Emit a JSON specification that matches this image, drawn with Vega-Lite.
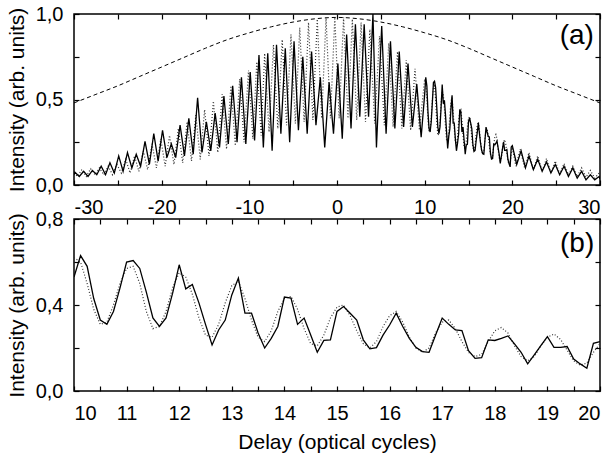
{
  "$schema": "https://vega.github.io/schema/vega-lite/v6.json",
  "padding": {"left": 5, "top": 3, "right": 8, "bottom": 5},
  "bounds": "flush",
  "spacing": 34,
  "config": {
    "font": "Liberation Sans",
    "view": {"stroke": "black", "strokeWidth": 1.5},
    "axis": {"domain": false, "grid": false, "tickColor": "black", "tickSize": -5, "tickWidth": 1.2,
      "labelFont": "Liberation Sans", "labelFontSize": 20, "labelColor": "black",
      "titleFont": "Liberation Sans", "titleFontSize": 21, "titleFontWeight": "normal", "titleColor": "black"}
  },
  "datasets": {
    "solid": [
      {"x":-30,"y":0.06},{"x":-29.9,"y":0.075},{"x":-29.4,"y":0.05},{"x":-28.9,"y":0.08},{"x":-28.4,"y":0.05},{"x":-27.9,"y":0.085},{"x":-27.4,"y":0.06},{"x":-26.9,"y":0.11},{"x":-26.4,"y":0.06},{"x":-25.9,"y":0.13},{"x":-25.4,"y":0.07},{"x":-24.9,"y":0.17},{"x":-24.4,"y":0.08},{"x":-23.9,"y":0.19},{"x":-23.4,"y":0.1},{"x":-22.9,"y":0.18},{"x":-22.4,"y":0.11},{"x":-21.9,"y":0.255},{"x":-21.4,"y":0.12},{"x":-20.9,"y":0.3},{"x":-20.4,"y":0.14},{"x":-19.9,"y":0.32},{"x":-19.4,"y":0.16},{"x":-18.9,"y":0.24},{"x":-18.4,"y":0.16},{"x":-17.9,"y":0.35},{"x":-17.4,"y":0.17},{"x":-16.9,"y":0.39},{"x":-16.4,"y":0.18},{"x":-15.9,"y":0.51},{"x":-15.4,"y":0.19},{"x":-14.9,"y":0.37},{"x":-14.4,"y":0.2},{"x":-13.9,"y":0.42},{"x":-13.4,"y":0.22},{"x":-12.9,"y":0.52},{"x":-12.4,"y":0.24},{"x":-11.9,"y":0.58},{"x":-11.4,"y":0.25},{"x":-10.9,"y":0.63},{"x":-10.4,"y":0.24},{"x":-9.9,"y":0.66},{"x":-9.4,"y":0.26},{"x":-8.9,"y":0.76},{"x":-8.4,"y":0.22},{"x":-7.9,"y":0.77},{"x":-7.4,"y":0.2},{"x":-6.9,"y":0.82},{"x":-6.4,"y":0.3},{"x":-5.9,"y":0.8},{"x":-5.4,"y":0.25},{"x":-4.9,"y":0.84},{"x":-4.4,"y":0.32},{"x":-3.9,"y":0.75},{"x":-3.4,"y":0.3},{"x":-2.9,"y":0.78},{"x":-2.4,"y":0.35},{"x":-1.9,"y":0.63},{"x":-1.4,"y":0.22},{"x":-0.9,"y":0.6},{"x":-0.4,"y":0.3},{"x":0.1,"y":0.71},{"x":0.6,"y":0.27},{"x":1.1,"y":0.88},{"x":1.6,"y":0.33},{"x":2.1,"y":0.94},{"x":2.6,"y":0.4},{"x":3.1,"y":0.94},{"x":3.6,"y":0.4},{"x":4.1,"y":1.0},{"x":4.5,"y":0.22},{"x":5.1,"y":0.93},{"x":5.6,"y":0.3},{"x":6.1,"y":0.84},{"x":6.6,"y":0.33},{"x":7.1,"y":0.78},{"x":7.6,"y":0.34},{"x":8.1,"y":0.71},{"x":8.6,"y":0.34},{"x":9.1,"y":0.59},{"x":9.6,"y":0.28},
      {"x":10,"y":0.53},{"x":10.125,"y":0.63},{"x":10.25,"y":0.58},{"x":10.375,"y":0.43},{"x":10.5,"y":0.33},{"x":10.625,"y":0.31},{"x":10.75,"y":0.37},{"x":10.875,"y":0.48},
      {"x":11,"y":0.6},{"x":11.125,"y":0.607},{"x":11.25,"y":0.57},{"x":11.375,"y":0.46},{"x":11.5,"y":0.34},{"x":11.625,"y":0.3},{"x":11.75,"y":0.34},{"x":11.875,"y":0.455},
      {"x":12,"y":0.587},{"x":12.125,"y":0.475},{"x":12.25,"y":0.495},{"x":12.375,"y":0.41},{"x":12.5,"y":0.31},{"x":12.625,"y":0.214},{"x":12.75,"y":0.284},{"x":12.875,"y":0.33},
      {"x":13,"y":0.447},{"x":13.125,"y":0.525},{"x":13.25,"y":0.362},{"x":13.375,"y":0.362},{"x":13.5,"y":0.27},{"x":13.625,"y":0.2},{"x":13.75,"y":0.245},{"x":13.875,"y":0.3},
      {"x":14,"y":0.437},{"x":14.125,"y":0.432},{"x":14.25,"y":0.31},{"x":14.375,"y":0.339},{"x":14.5,"y":0.26},{"x":14.625,"y":0.18},{"x":14.75,"y":0.235},{"x":14.875,"y":0.238},
      {"x":15,"y":0.37},{"x":15.125,"y":0.393},{"x":15.25,"y":0.362},{"x":15.375,"y":0.33},{"x":15.5,"y":0.238},{"x":15.625,"y":0.196},{"x":15.75,"y":0.202},{"x":15.875,"y":0.26},
      {"x":16,"y":0.307},{"x":16.125,"y":0.362},{"x":16.25,"y":0.3},{"x":16.375,"y":0.245},{"x":16.5,"y":0.203},{"x":16.625,"y":0.183},{"x":16.75,"y":0.18},{"x":16.875,"y":0.26},
      {"x":17,"y":0.339},{"x":17.125,"y":0.31},{"x":17.25,"y":0.284},{"x":17.375,"y":0.281},{"x":17.5,"y":0.188},{"x":17.625,"y":0.152},{"x":17.75,"y":0.155},{"x":17.875,"y":0.238},
      {"x":18,"y":0.235},{"x":18.125,"y":0.245},{"x":18.25,"y":0.256},{"x":18.375,"y":0.219},{"x":18.5,"y":0.18},{"x":18.625,"y":0.126},{"x":18.75,"y":0.168},{"x":18.875,"y":0.211},
      {"x":19,"y":0.253},{"x":19.125,"y":0.203},{"x":19.25,"y":0.203},{"x":19.375,"y":0.207},{"x":19.5,"y":0.149},{"x":19.625,"y":0.126},{"x":19.75,"y":0.106},{"x":19.875,"y":0.222},
      {"x":20,"y":0.23},
      {"x":20.5,"y":0.12},{"x":21,"y":0.2},{"x":21.5,"y":0.1},{"x":21.9,"y":0.17},{"x":22.4,"y":0.09},{"x":22.9,"y":0.15},{"x":23.4,"y":0.08},{"x":23.9,"y":0.135},{"x":24.4,"y":0.07},{"x":24.9,"y":0.12},{"x":25.4,"y":0.06},{"x":25.9,"y":0.11},{"x":26.4,"y":0.05},{"x":26.9,"y":0.1},{"x":27.4,"y":0.04},{"x":27.9,"y":0.08},{"x":28.4,"y":0.03},{"x":28.9,"y":0.06},{"x":29.4,"y":0.03},{"x":29.9,"y":0.05},{"x":30,"y":0.035}
    ],
    "dotted": [
      {"x":-30,"y":0.07},{"x":-29.6,"y":0.05},{"x":-29.1,"y":0.09},{"x":-28.6,"y":0.05},{"x":-28.1,"y":0.095},{"x":-27.6,"y":0.06},{"x":-27.1,"y":0.1},{"x":-26.6,"y":0.06},{"x":-26.1,"y":0.11},{"x":-25.6,"y":0.06},{"x":-25.1,"y":0.12},{"x":-24.6,"y":0.07},{"x":-24.1,"y":0.15},{"x":-23.6,"y":0.07},{"x":-23.1,"y":0.17},{"x":-22.6,"y":0.08},{"x":-22.1,"y":0.2},{"x":-21.6,"y":0.09},{"x":-21.1,"y":0.24},{"x":-20.6,"y":0.1},{"x":-20.1,"y":0.27},{"x":-19.6,"y":0.11},{"x":-19.1,"y":0.29},{"x":-18.6,"y":0.12},{"x":-18.1,"y":0.33},{"x":-17.6,"y":0.13},{"x":-17.1,"y":0.37},{"x":-16.6,"y":0.14},{"x":-16.1,"y":0.41},{"x":-15.6,"y":0.15},{"x":-15.1,"y":0.44},{"x":-14.6,"y":0.17},{"x":-14.1,"y":0.49},{"x":-13.6,"y":0.19},{"x":-13.1,"y":0.53},{"x":-12.6,"y":0.21},{"x":-12.1,"y":0.58},{"x":-11.6,"y":0.23},{"x":-11.1,"y":0.62},{"x":-10.6,"y":0.25},{"x":-10.1,"y":0.67},{"x":-9.6,"y":0.27},
      {"x":-9.15,"y":0.72},{"x":-8.65,"y":0.29},{"x":-8.25,"y":0.77},{"x":-7.75,"y":0.31},{"x":-7.25,"y":0.82},{"x":-6.75,"y":0.33},{"x":-6.25,"y":0.85},{"x":-5.75,"y":0.35},{"x":-5.25,"y":0.88},{"x":-4.75,"y":0.36},{"x":-4.25,"y":0.92},{"x":-3.75,"y":0.37},{"x":-3.25,"y":0.95},{"x":-2.75,"y":0.38},{"x":-2.25,"y":0.97},{"x":-1.75,"y":0.39},{"x":-1.25,"y":0.98},{"x":-0.75,"y":0.39},{"x":-0.25,"y":0.98},{"x":0.25,"y":0.39},{"x":0.75,"y":0.98},{"x":1.25,"y":0.39},{"x":1.75,"y":0.97},{"x":2.25,"y":0.38},{"x":2.75,"y":0.95},{"x":3.25,"y":0.37},{"x":3.75,"y":0.91},{"x":4.3,"y":0.36},{"x":4.85,"y":0.87},{"x":5.4,"y":0.35},
      {"x":5.9,"y":0.83},{"x":6.4,"y":0.34},{"x":6.9,"y":0.78},{"x":7.4,"y":0.33},{"x":7.9,"y":0.73},{"x":8.4,"y":0.32},{"x":8.9,"y":0.68},{"x":9.4,"y":0.32},
      {"x":10,"y":0.62},{"x":10.125,"y":0.6},{"x":10.25,"y":0.5},{"x":10.375,"y":0.38},{"x":10.5,"y":0.31},{"x":10.625,"y":0.32},{"x":10.75,"y":0.4},{"x":10.875,"y":0.5},
      {"x":11,"y":0.57},{"x":11.125,"y":0.58},{"x":11.25,"y":0.5},{"x":11.375,"y":0.37},{"x":11.5,"y":0.29},{"x":11.625,"y":0.3},{"x":11.75,"y":0.37},{"x":11.875,"y":0.48},
      {"x":12,"y":0.55},{"x":12.125,"y":0.53},{"x":12.25,"y":0.45},{"x":12.375,"y":0.34},{"x":12.5,"y":0.26},{"x":12.625,"y":0.25},{"x":12.75,"y":0.31},{"x":12.875,"y":0.41},
      {"x":13,"y":0.49},{"x":13.125,"y":0.51},{"x":13.25,"y":0.43},{"x":13.375,"y":0.33},{"x":13.5,"y":0.25},{"x":13.625,"y":0.23},{"x":13.75,"y":0.28},{"x":13.875,"y":0.37},
      {"x":14,"y":0.43},{"x":14.125,"y":0.44},{"x":14.25,"y":0.38},{"x":14.375,"y":0.29},{"x":14.5,"y":0.22},{"x":14.625,"y":0.21},{"x":14.75,"y":0.26},{"x":14.875,"y":0.34},
      {"x":15,"y":0.39},{"x":15.125,"y":0.4},{"x":15.25,"y":0.35},{"x":15.375,"y":0.28},{"x":15.5,"y":0.22},{"x":15.625,"y":0.2},{"x":15.75,"y":0.23},{"x":15.875,"y":0.3},
      {"x":16,"y":0.35},{"x":16.125,"y":0.37},{"x":16.25,"y":0.32},{"x":16.375,"y":0.25},{"x":16.5,"y":0.2},{"x":16.625,"y":0.18},{"x":16.75,"y":0.2},{"x":16.875,"y":0.27},
      {"x":17,"y":0.32},{"x":17.125,"y":0.33},{"x":17.25,"y":0.29},{"x":17.375,"y":0.23},{"x":17.5,"y":0.18},{"x":17.625,"y":0.16},{"x":17.75,"y":0.17},{"x":17.875,"y":0.23},
      {"x":18,"y":0.28},{"x":18.125,"y":0.295},{"x":18.25,"y":0.27},{"x":18.375,"y":0.21},{"x":18.5,"y":0.16},{"x":18.625,"y":0.14},{"x":18.75,"y":0.16},{"x":18.875,"y":0.21},
      {"x":19,"y":0.25},{"x":19.125,"y":0.265},{"x":19.25,"y":0.24},{"x":19.375,"y":0.19},{"x":19.5,"y":0.14},{"x":19.625,"y":0.12},{"x":19.75,"y":0.13},{"x":19.875,"y":0.18},
      {"x":20,"y":0.22},
      {"x":20.4,"y":0.11},{"x":20.9,"y":0.21},{"x":21.4,"y":0.1},{"x":21.9,"y":0.19},{"x":22.4,"y":0.09},{"x":22.9,"y":0.17},{"x":23.4,"y":0.08},{"x":23.9,"y":0.155},{"x":24.4,"y":0.07},{"x":24.9,"y":0.14},{"x":25.4,"y":0.065},{"x":25.9,"y":0.125},{"x":26.4,"y":0.06},{"x":26.9,"y":0.11},{"x":27.4,"y":0.05},{"x":27.9,"y":0.1},{"x":28.4,"y":0.045},{"x":28.9,"y":0.085},{"x":29.4,"y":0.04},{"x":29.9,"y":0.07},{"x":30,"y":0.06}
    ],
    "env": [
      {"x":-30,"y":0.48},{"x":-27.5,"y":0.53},{"x":-25,"y":0.58},{"x":-22.5,"y":0.635},{"x":-20,"y":0.69},{"x":-17.5,"y":0.745},{"x":-15,"y":0.8},{"x":-12.5,"y":0.85},{"x":-10,"y":0.89},{"x":-7.5,"y":0.925},{"x":-5,"y":0.953},{"x":-2.5,"y":0.972},{"x":0,"y":0.98},{"x":2.5,"y":0.972},{"x":5,"y":0.953},{"x":7.5,"y":0.925},{"x":10,"y":0.89},{"x":12.5,"y":0.85},{"x":15,"y":0.8},{"x":17.5,"y":0.745},{"x":20,"y":0.69},{"x":22.5,"y":0.635},{"x":25,"y":0.58},{"x":27.5,"y":0.53},{"x":30,"y":0.48}
    ],
    "lab": [
      {"panel":"a","label":"(a)","x":29.3,"y":0.87},
      {"panel":"b","label":"(b)","x":19.89,"y":0.684}
    ]
  },
  "vconcat": [
    {
      "width": 526, "height": 171,
      "resolve": {"axis": {"x": "independent", "y": "independent"}},
      "layer": [
        {
          "data": {"name": "env"},
          "mark": {"type": "line", "color": "black", "strokeWidth": 1, "strokeDash": [4, 3], "interpolate": "monotone", "clip": true},
          "encoding": {
            "x": {"field": "x", "type": "quantitative", "scale": {"domain": [-30, 30], "nice": false, "zero": false}, "axis": null},
            "y": {"field": "y", "type": "quantitative", "scale": {"domain": [0, 1], "nice": false}, "axis": null}
          }
        },
        {
          "data": {"name": "dotted"},
          "mark": {"type": "line", "color": "#333333", "strokeWidth": 1.2, "strokeDash": [1, 2], "clip": true},
          "encoding": {
            "x": {"field": "x", "type": "quantitative", "axis": null},
            "y": {"field": "y", "type": "quantitative", "axis": null}
          }
        },
        {
          "data": {"name": "solid"},
          "mark": {"type": "line", "color": "black", "strokeWidth": 1.3, "clip": true},
          "encoding": {
            "x": {"field": "x", "type": "quantitative",
              "axis": {"orient": "bottom", "values": [-30,-25,-20,-15,-10,-5,0,5,10,15,20,25,30], "labelExpr": "datum.value % 10 === 0 ? '' + datum.value : ''", "labelPadding": 17, "title": null}},
            "y": {"field": "y", "type": "quantitative",
              "axis": {"orient": "left", "values": [0,0.25,0.5,0.75,1], "labelExpr": "round(datum.value*100) % 50 === 0 ? replace(format(datum.value, '.1f'), '.', ',') : ''", "labelPadding": 16, "title": "Intensity (arb. units)", "titlePadding": 8}}
          }
        },
        {
          "data": {"name": "lab"},
          "transform": [{"filter": "datum.panel === 'a'"}],
          "mark": {"type": "text", "align": "right", "baseline": "middle", "fontSize": 28, "font": "Liberation Sans", "color": "black"},
          "encoding": {
            "x": {"field": "x", "type": "quantitative", "axis": {"orient": "top", "values": [-30,-25,-20,-15,-10,-5,0,5,10,15,20,25,30], "labels": false, "title": null}},
            "y": {"field": "y", "type": "quantitative", "axis": {"orient": "right", "values": [0,0.25,0.5,0.75,1], "labels": false, "title": null}},
            "text": {"field": "label"}
          }
        }
      ]
    },
    {
      "width": 526, "height": 172,
      "resolve": {"axis": {"x": "independent", "y": "independent"}},
      "layer": [
        {
          "data": {"name": "dotted"},
          "transform": [{"filter": "datum.x >= 10 && datum.x <= 20"}],
          "mark": {"type": "line", "color": "#333333", "strokeWidth": 1.2, "strokeDash": [1, 2], "clip": true},
          "encoding": {
            "x": {"field": "x", "type": "quantitative", "scale": {"domain": [10, 20], "nice": false, "zero": false}, "axis": null},
            "y": {"field": "y", "type": "quantitative", "scale": {"domain": [0, 0.8], "nice": false}, "axis": null}
          }
        },
        {
          "data": {"name": "solid"},
          "transform": [{"filter": "datum.x >= 10 && datum.x <= 20"}],
          "mark": {"type": "line", "color": "black", "strokeWidth": 1.3, "clip": true},
          "encoding": {
            "x": {"field": "x", "type": "quantitative",
              "axis": {"orient": "bottom", "values": [10,10.5,11,11.5,12,12.5,13,13.5,14,14.5,15,15.5,16,16.5,17,17.5,18,18.5,19,19.5,20], "labelExpr": "datum.value % 1 === 0 ? '' + datum.value : ''", "labelPadding": 17, "title": "Delay (optical cycles)", "titlePadding": 8}},
            "y": {"field": "y", "type": "quantitative",
              "axis": {"orient": "left", "values": [0,0.2,0.4,0.6,0.8], "labelExpr": "round(datum.value*10) % 4 === 0 ? replace(format(datum.value, '.1f'), '.', ',') : ''", "labelPadding": 16, "title": "Intensity (arb. units)", "titlePadding": 8}}
          }
        },
        {
          "data": {"name": "lab"},
          "transform": [{"filter": "datum.panel === 'b'"}],
          "mark": {"type": "text", "align": "right", "baseline": "middle", "fontSize": 28, "font": "Liberation Sans", "color": "black"},
          "encoding": {
            "x": {"field": "x", "type": "quantitative", "axis": {"orient": "top", "values": [10,10.5,11,11.5,12,12.5,13,13.5,14,14.5,15,15.5,16,16.5,17,17.5,18,18.5,19,19.5,20], "labels": false, "title": null}},
            "y": {"field": "y", "type": "quantitative", "axis": {"orient": "right", "values": [0,0.2,0.4,0.6,0.8], "labels": false, "title": null}},
            "text": {"field": "label"}
          }
        }
      ]
    }
  ]
}
